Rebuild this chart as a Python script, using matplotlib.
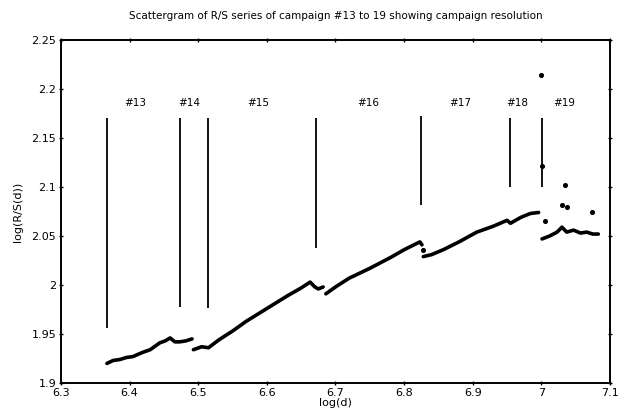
import matplotlib
matplotlib.use("Agg")
import matplotlib.pyplot as plt
from matplotlib.ticker import MultipleLocator, FuncFormatter

# campaign separators (x position, bottom, top)
sep_x = [6.367, 6.4735, 6.514, 6.672, 6.825, 6.955, 7.001]
sep_bottom = [1.956, 1.978, 1.977, 2.038, 2.082, 2.100, 2.100]
sep_top = [2.170, 2.170, 2.170, 2.170, 2.172, 2.170, 2.170]

labels = ["#13", "#14", "#15", "#16", "#17", "#18", "#19"]
label_x = [6.408, 6.487, 6.587, 6.748, 6.882, 6.965, 7.033]
label_y = 2.186

# R/S series, read per campaign block
seg1_x = [6.367, 6.376, 6.386, 6.395, 6.405, 6.418, 6.430, 6.444, 6.452, 6.459, 6.466, 6.473, 6.482, 6.491]
seg1_y = [1.920, 1.923, 1.924, 1.926, 1.927, 1.931, 1.934, 1.941, 1.943, 1.946, 1.942, 1.942, 1.943, 1.945]

seg2_x = [6.493, 6.505, 6.515, 6.530, 6.550, 6.570, 6.600, 6.630, 6.650, 6.663, 6.670, 6.675, 6.682]
seg2_y = [1.934, 1.937, 1.936, 1.944, 1.953, 1.963, 1.976, 1.989, 1.997, 2.003, 1.998, 1.996, 1.998]

seg3_x = [6.686, 6.700, 6.720, 6.750, 6.780, 6.800, 6.823, 6.826]
seg3_y = [1.991, 1.998, 2.007, 2.017, 2.028, 2.036, 2.044, 2.041]

seg4_x = [6.828, 6.840, 6.857, 6.880, 6.906, 6.930, 6.950, 6.955, 6.970, 6.984, 6.996]
seg4_y = [2.029, 2.031, 2.036, 2.044, 2.054, 2.060, 2.066, 2.063, 2.069, 2.073, 2.074]

seg5_x = [7.001, 7.012, 7.023, 7.030, 7.037, 7.047, 7.057, 7.066, 7.075, 7.083]
seg5_y = [2.047, 2.050, 2.054, 2.059, 2.054, 2.056, 2.053, 2.054, 2.052, 2.052]

out_x = [7.000, 7.001, 7.006, 7.030, 7.037, 7.035, 7.074, 6.827]
out_y = [2.214, 2.121, 2.065, 2.082, 2.080, 2.102, 2.074, 2.036]

fig = plt.figure(figsize=(6.26, 4.13), dpi=100)
ax = fig.add_axes([0.0974, 0.0726, 0.877, 0.8305])

for sx, sy in [(seg1_x, seg1_y), (seg2_x, seg2_y), (seg3_x, seg3_y),
               (seg4_x, seg4_y), (seg5_x, seg5_y)]:
    ax.plot(sx, sy, color="black", lw=2.6, solid_capstyle="round",
            solid_joinstyle="round")
ax.scatter(out_x, out_y, s=7, color="black", zorder=3)

ax.vlines(sep_x, sep_bottom, sep_top, color="black", lw=1.3)
for lab, lx in zip(labels, label_x):
    ax.text(lx, label_y, lab, ha="center", va="center", fontsize=7.5)

ax.set_xlim(6.3, 7.1)
ax.set_ylim(1.9, 2.25)
ax.xaxis.set_major_locator(MultipleLocator(0.1))
ax.yaxis.set_major_locator(MultipleLocator(0.05))
fmt = FuncFormatter(lambda v, p: f"{v:.2f}".rstrip("0").rstrip("."))
ax.xaxis.set_major_formatter(fmt)
ax.yaxis.set_major_formatter(fmt)
ax.tick_params(direction="inout", length=3, width=1, labelsize=8,
               top=True, right=True, pad=2)
for sp in ax.spines.values():
    sp.set_linewidth(1.4)

ax.set_xlabel("log(d)", fontsize=8, labelpad=0)
ax.set_ylabel("log(R/S(d))", fontsize=8, labelpad=6)
ax.set_title("Scattergram of R/S series of campaign #13 to 19 showing campaign resolution",
             fontsize=7.5, pad=15)

fig.savefig("out.png", dpi=100)
